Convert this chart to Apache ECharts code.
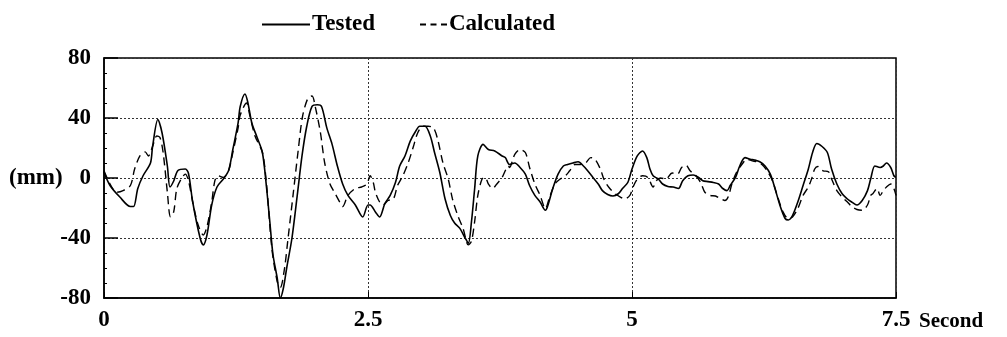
<!DOCTYPE html>
<html>
<head>
<meta charset="utf-8">
<script src="https://cdn.jsdelivr.net/npm/echarts@6/dist/echarts.min.js"></script>
<style>
  html, body { margin: 0; padding: 0; background: #fff; }
  #chart { width: 1007px; height: 337px; }
</style>
</head>
<body>
<div id="chart"></div>
<script>
// time (s) / displacement (mm)
const testedTime = [0, 0.057, 0.15, 0.25, 0.28, 0.32, 0.37, 0.44, 0.46, 0.51, 0.55, 0.6, 0.625, 0.66, 0.7, 0.77, 0.8, 0.84, 0.91, 0.94, 0.975, 1.02, 1.07, 1.13, 1.18, 1.22, 1.27, 1.29, 1.335, 1.36, 1.4, 1.45, 1.5, 1.54, 1.57, 1.6, 1.64, 1.67, 1.7, 1.73, 1.78, 1.83, 1.875, 1.92, 1.97, 2.02, 2.06, 2.11, 2.16, 2.21, 2.26, 2.31, 2.38, 2.45, 2.5, 2.52, 2.57, 2.61, 2.66, 2.71, 2.76, 2.8, 2.85, 2.9, 2.95, 2.99, 3.04, 3.09, 3.13, 3.18, 3.23, 3.28, 3.32, 3.37, 3.42, 3.45, 3.48, 3.51, 3.54, 3.59, 3.64, 3.7, 3.77, 3.8, 3.84, 3.89, 3.94, 3.99, 4.03, 4.08, 4.13, 4.18, 4.2, 4.25, 4.3, 4.35, 4.39, 4.44, 4.49, 4.54, 4.58, 4.63, 4.68, 4.72, 4.77, 4.82, 4.87, 4.91, 4.96, 5.0, 5.05, 5.1, 5.14, 5.17, 5.2, 5.25, 5.29, 5.34, 5.39, 5.44, 5.48, 5.53, 5.58, 5.63, 5.67, 5.72, 5.77, 5.82, 5.86, 5.9, 5.93, 5.98, 6.02, 6.07, 6.12, 6.16, 6.21, 6.26, 6.31, 6.35, 6.4, 6.45, 6.48, 6.52, 6.57, 6.62, 6.67, 6.71, 6.75, 6.8, 6.85, 6.89, 6.94, 6.99, 7.04, 7.08, 7.13, 7.18, 7.23, 7.26, 7.3, 7.35, 7.38, 7.41, 7.45, 7.48, 7.5];
const testedValue = [4, -5, -12.7, -19, -19, -7, 1.5, 10, 21, 39, 30, 8, -6, -2, 5, 6, 3, -16, -40, -44.6, -38, -18, -6, -0.7, 5, 19, 36.7, 47.7, 56, 51, 36.7, 27, 17, -7, -29, -51, -66.6, -80, -73, -60, -40, -11.6, 14.7, 34.5, 47.7, 48.8, 47.7, 33.4, 22.4, 8, -4, -11.6, -18, -26, -18, -18, -22.6, -26, -17, -11.6, -3, 8, 14.7, 24.6, 31, 34.5, 34.5, 28, 17, 3.7, -14, -25, -30, -33.6, -40, -43.5, -29, -7, 14.7, 22.4, 19, 18, 14.7, 13.6, 9, 10, 7, 2.6, -5, -11.6, -16, -21.5, -19, -7, 2.6, 8, 9, 10, 10.8, 8, 4.8, 0.4, -4, -8.4, -11, -12, -10.5, -7, -3, 6, 14.7, 18, 13.6, 6, 1.5, -0.7, -4, -5.7, -6, -7, -1.8, 1.5, 2, 0.4, -1.8, -2.4, -3, -4, -7, -8.4, -5, 0.4, 8, 13.6, 12.5, 12, 10.8, 8, 2.6, -6, -18, -27, -28, -25, -16, -5, 6, 17, 23, 21, 17, 6, -4, -10.5, -14, -16, -18, -15, -8.4, -0.7, 8, 7, 8, 10, 7, 1.5, 0.4];

const calcTime = [0, 0.057, 0.12, 0.18, 0.25, 0.29, 0.34, 0.39, 0.42, 0.46, 0.5, 0.53, 0.56, 0.6, 0.63, 0.66, 0.69, 0.74, 0.77, 0.8, 0.84, 0.89, 0.94, 0.975, 1.02, 1.05, 1.08, 1.13, 1.18, 1.22, 1.27, 1.29, 1.35, 1.38, 1.43, 1.5, 1.54, 1.59, 1.64, 1.67, 1.71, 1.74, 1.79, 1.84, 1.88, 1.93, 1.97, 2.0, 2.05, 2.09, 2.14, 2.19, 2.24, 2.26, 2.31, 2.38, 2.44, 2.49, 2.52, 2.55, 2.57, 2.61, 2.64, 2.69, 2.74, 2.78, 2.83, 2.88, 2.93, 2.97, 3.02, 3.07, 3.12, 3.16, 3.21, 3.26, 3.3, 3.35, 3.4, 3.45, 3.48, 3.51, 3.54, 3.58, 3.61, 3.64, 3.68, 3.72, 3.77, 3.83, 3.84, 3.89, 3.94, 3.99, 4.03, 4.08, 4.13, 4.18, 4.22, 4.27, 4.32, 4.37, 4.41, 4.46, 4.51, 4.56, 4.61, 4.65, 4.7, 4.74, 4.79, 4.84, 4.89, 4.93, 4.98, 5.01, 5.05, 5.1, 5.15, 5.2, 5.23, 5.27, 5.32, 5.38, 5.43, 5.47, 5.51, 5.55, 5.6, 5.65, 5.69, 5.74, 5.79, 5.83, 5.88, 5.91, 5.95, 5.99, 6.04, 6.09, 6.14, 6.18, 6.23, 6.28, 6.33, 6.37, 6.43, 6.48, 6.52, 6.57, 6.62, 6.67, 6.7, 6.73, 6.76, 6.81, 6.86, 6.89, 6.94, 6.99, 7.04, 7.08, 7.13, 7.18, 7.23, 7.26, 7.28, 7.32, 7.35, 7.38, 7.41, 7.45, 7.48, 7.5];
const calcValue = [4.8, -4, -9.5, -8.4, -5, 6, 14.7, 17.4, 14.7, 21, 28, 27, 17, -9.5, -26, -22.6, -7, 0.4, 2.6, -1.8, -16, -31, -38, -32.5, -16, -1.8, 1.5, 0.4, 5, 17, 33.4, 42, 50, 42, 28, 17, -5, -47, -69, -73, -60, -42, -11.6, 19, 41, 53, 54.7, 47.7, 30, 10, -4, -10.5, -17, -19, -11.6, -7, -6, -4, 1.5, -3, -9.5, -16, -18, -15, -14, -5, 1.5, 10, 21, 30, 34.5, 34.5, 33.4, 25.7, 10, -0.7, -14, -25, -33.6, -44.6, -42, -29, -11.6, -0.7, 0.4, -4, -7, -4, 0.4, 8, 7, 15.8, 19, 17, 7, -4, -11.6, -20.4, -12.7, -4, -0.7, 1.5, 4.8, 9, 9, 10, 13.6, 12.5, 6, -1.8, -7, -10.5, -12.7, -14, -11.6, -6, -0.7, 1.5, 0.4, -6, -1.8, 0, -0.7, 3.3, 2.6, 7, 8.6, 4.8, 2, -3, -9.5, -11.6, -12, -13.4, -15, -12.7, -3, 3.7, 9, 12.5, 11.4, 10.8, 9, 4.8, -1.8, -10.5, -22.6, -27, -26, -20.4, -11.6, -6, -0.7, 6, 7.7, 4.8, 4.2, -0.7, -8.4, -12.7, -16, -19, -21, -21.5, -18, -11.6, -10.5, -7, -11.6, -8.4, -6, -4, -7, -11.6];

const xTicks = [0, 2.5, 5, 7.5];
const yTicks = [-80, -40, 0, 40, 80];

function zip(xs, ys) {
  let out = [];
  for (let i = 0; i < xs.length; i++) {
    out.push([xs[i], ys[i]]);
  }
  return out;
}

const serif = '"Liberation Serif", "DejaVu Serif", serif';
let myChart = echarts.init(document.getElementById('chart'));

let legendText = { fontFamily: serif, fontWeight: 'bold', fontSize: 23, color: '#000', padding: [0, 0, 0, -3] };

let option = {
  animation: false,
  backgroundColor: '#fff',
  legend: [
    {
      data: ['Tested'],
      left: 256,
      top: 8,
      itemWidth: 48,
      itemHeight: 10,
      itemStyle: { opacity: 0 },
      textStyle: legendText
    },
    {
      data: ['Calculated'],
      left: 414,
      top: 8,
      itemWidth: 27,
      itemHeight: 10,
      itemStyle: { opacity: 0 },
      lineStyle: { type: [6, 4.5], width: 2 },
      textStyle: legendText
    }
  ],
  grid: {
    left: 104,
    right: 111,
    top: 58,
    bottom: 39,
    show: true,
    borderColor: '#000',
    borderWidth: 1.5,
    backgroundColor: 'transparent'
  },
  xAxis: {
    type: 'value',
    min: 0,
    max: 7.5,
    interval: 2.5,
    axisLine: { onZero: false, lineStyle: { color: '#000', width: 1.5 } },
    axisTick: { inside: true, length: 6, lineStyle: { color: '#000' } },
    axisLabel: {
      color: '#000',
      fontFamily: serif,
      fontWeight: 'bold',
      fontSize: 23,
      margin: 11,
      formatter: v => (xTicks.indexOf(v) >= 0 ? String(v) : '')
    },
    splitLine: { show: true, lineStyle: { color: '#333', type: [2, 2], width: 1 } }
  },
  yAxis: {
    type: 'value',
    min: -80,
    max: 80,
    interval: 40,
    axisLine: { show: true, onZero: false, lineStyle: { color: '#000', width: 1.5 } },
    axisTick: { show: true, inside: true, length: 14, lineStyle: { color: '#000', width: 1.5 } },
    minorTick: { show: true, splitNumber: 4, length: 3, lineStyle: { color: '#000' } },
    axisLabel: {
      color: '#000',
      fontFamily: serif,
      fontWeight: 'bold',
      fontSize: 23,
      margin: 13,
      formatter: v => (yTicks.indexOf(v) >= 0 ? String(v) : '')
    },
    splitLine: { show: true, lineStyle: { color: '#333', type: [2, 2], width: 1 } }
  },
  graphic: [
    {
      type: 'text',
      left: 9,
      top: 167,
      style: { text: '(mm)', fontFamily: serif, fontWeight: 'bold', fontSize: 23, fill: '#000' }
    },
    {
      type: 'text',
      left: 919,
      top: 311,
      style: { text: 'Second', fontFamily: serif, fontWeight: 'bold', fontSize: 21, fill: '#000' }
    }
  ],
  series: [
    {
      name: 'Tested',
      type: 'line',
      symbol: 'none',
      smooth: 0.3,
      lineStyle: { color: '#000', width: 1.6, type: 'solid' },
      itemStyle: { color: '#000' },
      data: zip(testedTime, testedValue)
    },
    {
      name: 'Calculated',
      type: 'line',
      symbol: 'none',
      smooth: 0.3,
      lineStyle: { color: '#000', width: 1.4, type: [8, 5] },
      itemStyle: { color: '#000' },
      data: zip(calcTime, calcValue)
    }
  ]
};

myChart.setOption(option);
</script>
</body>
</html>
